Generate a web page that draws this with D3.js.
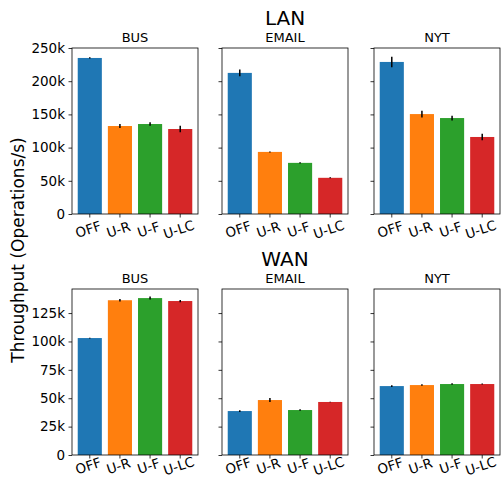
<!DOCTYPE html>
<html><head><meta charset="utf-8">
<script src="https://cdn.jsdelivr.net/npm/d3@7"></script>
<style>body{margin:0;background:#fff}svg{display:block}text{font-family:"DejaVu Sans",sans-serif;fill:#000}</style>
</head><body>
<script>
const categories = ["OFF","U-R","U-F","U-LC"];
const datasets = ["BUS","EMAIL","NYT"];
const colors = ["#1f77b4","#ff7f0e","#2ca02c","#d62728"];
// LAN values (ops/s)
const lanBus = [235000,132500,135500,128000];
const lanBusErr = [1000,3000,2500,5000];
const lanEmail = [212500,93500,77000,54500];
const lanEmailErr = [5000,700,1000,800];
const lanNyt = [229000,150500,144500,116000];
const lanNytErr = [8000,5000,3500,5000];
// WAN values
const wanBus = [103000,136300,138200,135600];
const wanBusErr = [300,1000,1300,1000];
const wanEmail = [38700,48400,39600,46700];
const wanEmailErr = [800,1800,600,300];
const wanNyt = [60700,61600,62500,62500];
const wanNytErr = [800,700,700,500];
const lanTicks = [0,50000,100000,150000,200000,250000];
const wanTicks = [0,25000,50000,75000,100000,125000];

const W=501,H=479;
const svg=d3.select("body").append("svg").attr("width",W).attr("height",H);
const panelX=[72,222,374], panelW=126;
const rows=[
  {title:"LAN", titleY:25, top:48, bottom:214, domain:[0,250000], ticks:lanTicks, labOff:20,
   vals:[lanBus,lanEmail,lanNyt], errs:[lanBusErr,lanEmailErr,lanNytErr]},
  {title:"WAN", titleY:266, top:289, bottom:455, domain:[0,146200], ticks:wanTicks, labOff:15.5,
   vals:[wanBus,wanEmail,wanNyt], errs:[wanBusErr,wanEmailErr,wanNytErr]}
];
const fmt=v=>v===0?"0":(v/1000)+"k";
rows.forEach(r=>{
  svg.append("text").attr("x",285).attr("y",r.titleY).attr("text-anchor","middle")
    .style("font-size","20px").text(r.title);
  const y=d3.scaleLinear().domain(r.domain).range([r.bottom,r.top]);
  datasets.forEach((ds,i)=>{
    const x0=panelX[i];
    const x=d3.scaleBand().domain(categories).range([x0,x0+panelW]).paddingInner(0.2).paddingOuter(0.19);
    const g=svg.append("g");
    g.append("text").attr("x",x0+panelW/2).attr("y",r.top-6).attr("text-anchor","middle")
      .style("font-size","13px").text(ds);
    g.selectAll("rect.bar").data(r.vals[i]).join("rect")
      .attr("x",(d,j)=>x(categories[j])).attr("width",x.bandwidth())
      .attr("y",d=>y(d)).attr("height",d=>r.bottom-y(d)).attr("fill",(d,j)=>colors[j]);
    g.selectAll("line.err").data(r.vals[i]).join("line")
      .attr("x1",(d,j)=>x(categories[j])+x.bandwidth()/2).attr("x2",(d,j)=>x(categories[j])+x.bandwidth()/2)
      .attr("y1",(d,j)=>y(d-r.errs[i][j])).attr("y2",(d,j)=>y(d+r.errs[i][j]))
      .attr("stroke","#000").attr("stroke-width",1.5);
    // y axis
    const ya=g.append("g").attr("transform",`translate(${x0},0)`)
      .call(d3.axisLeft(y).tickValues(r.ticks).tickFormat(i===0?fmt:"").tickSize(3.5).tickPadding(3.5));
    ya.select(".domain").remove();
    ya.selectAll("text").style("font-size","13.5px").style("font-family","DejaVu Sans");
    ya.selectAll("line").attr("stroke","#000").attr("stroke-width",0.8);
    // x axis
    const xa=g.append("g").attr("transform",`translate(0,${r.bottom})`)
      .call(d3.axisBottom(x).tickSize(3.5).tickSizeOuter(0));
    xa.select(".domain").remove();
    xa.selectAll("line").attr("stroke","#000").attr("stroke-width",0.8);
    xa.selectAll("text").style("font-size","13.5px").style("font-family","DejaVu Sans")
      .attr("text-anchor","middle").attr("y",0).attr("dy",0)
      .attr("transform",`translate(0,${r.labOff}) rotate(-18)`);
    // frame
    g.append("rect").attr("x",x0).attr("y",r.top).attr("width",panelW).attr("height",r.bottom-r.top)
      .attr("fill","none").attr("stroke","#000").attr("stroke-width",0.8);
  });
});
svg.append("text").attr("transform","translate(24,250) rotate(-90)").attr("text-anchor","middle")
  .style("font-size","17px").text("Throughput (Operations/s)");
</script>
</body></html>
